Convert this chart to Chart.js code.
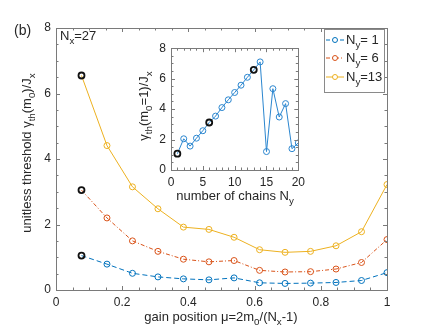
<!DOCTYPE html>
<html>
<head>
<meta charset="utf-8">
<script src="https://cdn.jsdelivr.net/npm/chart.js@4.4.1/dist/chart.umd.min.js"></script>
<style>
  html, body { margin: 0; padding: 0; background: #fff; }
  #wrap { position: relative; width: 428px; height: 330px; }
  #main { position: absolute; left: 0; top: 0; }
  #inset { position: absolute; left: 130px; top: 36px; }
</style>
</head>
<body>
<div id="wrap">
  <canvas id="main" width="428" height="330"></canvas>
  <canvas id="inset" width="180" height="180"></canvas>
</div>
<script>
// posiciones de ganancia mu = 2 m0 / (Nx - 1), Nx = 27
const gainPositions = [0.077, 0.154, 0.231, 0.308, 0.385, 0.462, 0.538, 0.615, 0.692, 0.769, 0.846, 0.923, 1.0];
const thresholdNy1  = [1.05, 0.79, 0.51, 0.40, 0.34, 0.31, 0.37, 0.22, 0.20, 0.21, 0.23, 0.29, 0.53];
const thresholdNy6  = [3.05, 2.20, 1.50, 1.18, 0.94, 0.86, 0.90, 0.60, 0.55, 0.56, 0.64, 0.84, 1.54];
const thresholdNy13 = [6.55, 4.41, 3.15, 2.48, 1.92, 1.85, 1.61, 1.23, 1.15, 1.18, 1.35, 1.78, 3.22];

// inset: umbral con m0 = 1 en funcion del numero de cadenas
const chainCounts = [1, 2, 3, 4, 5, 6, 7, 8, 9, 10, 11, 12, 13, 14, 15, 16, 17, 18, 19, 20];
const thresholdM1 = [1.07, 2.05, 1.57, 2.09, 2.58, 3.12, 3.54, 4.10, 4.61, 5.09, 5.57, 6.09, 6.58, 7.10, 1.21, 5.34, 3.48, 4.36, 1.40, 1.78];
const highlightedChains = [1, 6, 13];

const mainXTicks = [0, 0.2, 0.4, 0.6, 0.8, 1];
const mainXLabels = ['0', '0.2', '0.4', '0.6', '0.8', '1'];
const mainYTicks = [0, 2, 4, 6, 8];
const insetXTicks = [0, 5, 10, 15, 20];
const insetYTicks = [0, 2, 4, 6, 8];

const FONT = '"Liberation Sans", Arial, sans-serif';
const TXT = '#262626';
const AXIS = '#7a7a7a';
const BLUE = '#0072BD';
const ORANGE = '#D95319';
const YELLOW = '#EDB120';
const INSET_BLUE = '#2b86cf';

// texto con subindices: partes = [[texto, esSub], ...]
function richWidth(ctx, parts, size) {
  let w = 0;
  parts.forEach(([t, sub]) => {
    ctx.font = (sub ? size * 0.75 : size) + 'px ' + FONT;
    w += ctx.measureText(t).width;
  });
  return w;
}
function drawRich(ctx, parts, x, y, size, align) {
  ctx.save();
  ctx.fillStyle = TXT;
  ctx.textBaseline = 'middle';
  ctx.textAlign = 'left';
  let cx = x;
  const w = richWidth(ctx, parts, size);
  if (align === 'center') cx = x - w / 2;
  parts.forEach(([t, sub]) => {
    ctx.font = (sub ? size * 0.75 : size) + 'px ' + FONT;
    ctx.fillText(t, cx, sub ? y + size * 0.38 : y);
    cx += ctx.measureText(t).width;
  });
  ctx.restore();
}

// caja tipo MATLAB con marcas hacia dentro
function drawBox(chart, xMinor, yMinor) {
  const ctx = chart.ctx;
  const a = chart.chartArea;
  const xs = chart.scales.x, ys = chart.scales.y;
  ctx.save();
  ctx.strokeStyle = AXIS;
  ctx.lineWidth = 1;
  ctx.strokeRect(Math.round(a.left) + 0.5, Math.round(a.top) + 0.5, Math.round(a.right - a.left), Math.round(a.bottom - a.top));
  ctx.beginPath();
  for (let v = xs.min; v <= xs.max + 1e-9; v += xMinor) {
    const major = Math.abs(v / xs.options.ticks.stepSize - Math.round(v / xs.options.ticks.stepSize)) < 1e-6;
    const len = major ? 4 : 2.5;
    const px = Math.round(xs.getPixelForValue(v)) + 0.5;
    ctx.moveTo(px, a.bottom); ctx.lineTo(px, a.bottom - len);
    ctx.moveTo(px, a.top); ctx.lineTo(px, a.top + len);
  }
  for (let v = ys.min; v <= ys.max + 1e-9; v += yMinor) {
    const major = Math.abs(v / ys.options.ticks.stepSize - Math.round(v / ys.options.ticks.stepSize)) < 1e-6;
    const len = major ? 4 : 2.5;
    const py = Math.round(ys.getPixelForValue(v)) + 0.5;
    ctx.moveTo(a.left, py); ctx.lineTo(a.left + len, py);
    ctx.moveTo(a.right, py); ctx.lineTo(a.right - len, py);
  }
  ctx.stroke();
  ctx.restore();
}

function serie(label, values, color, dash) {
  return {
    label: label,
    data: gainPositions.map((x, i) => ({ x: x, y: values[i] })),
    borderColor: color,
    backgroundColor: '#fff',
    borderWidth: 1,
    borderDash: dash,
    pointRadius: 3,
    pointBorderWidth: ctx => ctx.dataIndex === 0 ? 1.8 : 1,
    pointBorderColor: ctx => ctx.dataIndex === 0 ? '#111' : color,
    pointBackgroundColor: 'rgba(255,255,255,0)',
    tension: 0
  };
}

const mainDecor = {
  id: 'mainDecor',
  afterDraw(chart) {
    const ctx = chart.ctx;
    drawBox(chart, 0.05, 0.5);
    // etiquetas
    ctx.save();
    ctx.fillStyle = TXT;
    ctx.font = '14px ' + FONT;
    ctx.textBaseline = 'middle';
    ctx.fillText('(b)', 14, 31);
    ctx.restore();
    drawRich(ctx, [['N', false], ['x', true], ['=27', false]], 60, 36, 13, 'left');
    drawRich(ctx, [['gain position \u03bc=2m', false], ['0', true], ['/(N', false], ['x', true], ['-1)', false]], 221, 317, 13, 'center');
    ctx.save();
    ctx.translate(27, 153);
    ctx.rotate(-Math.PI / 2);
    drawRich(ctx, [['unitless threshold \u03b3', false], ['th', true], ['(m', false], ['0', true], [')/J', false], ['x', true]], 0, 0, 13, 'center');
    ctx.restore();
    // leyenda
    const lx = 324, ly = 29, lw = 60, lh = 63;
    ctx.save();
    ctx.fillStyle = '#fff';
    ctx.fillRect(lx, ly, lw, lh);
    ctx.strokeStyle = '#8a8a8a';
    ctx.lineWidth = 1;
    ctx.strokeRect(lx + 0.5, ly + 0.5, lw, lh);
    const rows = [
      { c: BLUE, d: [4, 3], n: '= 1', y: 40 },
      { c: ORANGE, d: [4, 2, 1, 2], n: '= 6', y: 58 },
      { c: YELLOW, d: [], n: '=13', y: 77 }
    ];
    rows.forEach(r => {
      ctx.strokeStyle = r.c;
      ctx.setLineDash(r.d);
      ctx.beginPath();
      ctx.moveTo(326, r.y); ctx.lineTo(344, r.y);
      ctx.stroke();
      ctx.setLineDash([]);
      ctx.fillStyle = '#fff';
      ctx.beginPath();
      ctx.arc(335, r.y, 2.5, 0, Math.PI * 2);
      ctx.fill();
      ctx.stroke();
      drawRich(ctx, [['N', false], ['y', true], [r.n, false]], 346, r.y, 13, 'left');
    });
    ctx.restore();
  }
};

new Chart(document.getElementById('main'), {
  type: 'line',
  data: {
    datasets: [
      serie('Ny= 1', thresholdNy1, BLUE, [5, 3]),
      serie('Ny= 6', thresholdNy6, ORANGE, [4, 2, 1, 2]),
      serie('Ny=13', thresholdNy13, YELLOW, [])
    ]
  },
  options: {
    responsive: false,
    animation: false,
    layout: { padding: { top: 28, right: 41, left: 0, bottom: 0 } },
    plugins: { legend: { display: false }, tooltip: { enabled: false } },
    scales: {
      x: {
        type: 'linear', min: 0, max: 1,
        grid: { display: false, drawTicks: false },
        border: { display: false },
        afterFit: s => { s.height = 40; },
        afterBuildTicks: s => { s.ticks = mainXTicks.map(v => ({ value: v })); },
        ticks: {
          stepSize: 0.2, padding: 5, color: TXT, font: { family: FONT, size: 12 },
          callback: (v, i) => mainXLabels[i]
        }
      },
      y: {
        min: 0, max: 8,
        grid: { display: false, drawTicks: false },
        border: { display: false },
        afterFit: s => { s.width = 56; },
        afterBuildTicks: s => { s.ticks = mainYTicks.map(v => ({ value: v })); },
        ticks: { stepSize: 2, padding: 5, color: TXT, font: { family: FONT, size: 12 } }
      }
    }
  },
  plugins: [mainDecor]
});

const insetDecor = {
  id: 'insetDecor',
  afterDraw(chart) {
    const ctx = chart.ctx;
    drawBox(chart, 1, 0.5);
    drawRich(ctx, [['number of chains N', false], ['y', true]], 105, 160, 13, 'center');
    ctx.save();
    ctx.translate(14, 70);
    ctx.rotate(-Math.PI / 2);
    drawRich(ctx, [['\u03b3', false], ['th', true], ['(m', false], ['0', true], ['=1)/J', false], ['x', true]], 0, 0, 13, 'center');
    ctx.restore();
  }
};

new Chart(document.getElementById('inset'), {
  type: 'line',
  data: {
    datasets: [{
      data: chainCounts.map((n, i) => ({ x: n, y: thresholdM1[i] })),
      borderColor: INSET_BLUE,
      borderWidth: 1,
      pointRadius: 3,
      pointBorderWidth: ctx => highlightedChains.includes(chainCounts[ctx.dataIndex]) ? 1.8 : 1,
      pointBorderColor: ctx => highlightedChains.includes(chainCounts[ctx.dataIndex]) ? '#111' : INSET_BLUE,
      pointBackgroundColor: 'rgba(255,255,255,0)',
      tension: 0
    }]
  },
  options: {
    responsive: false,
    animation: false,
    layout: { padding: { top: 7, right: 11, left: 0, bottom: 0 } },
    plugins: { legend: { display: false }, tooltip: { enabled: false } },
    scales: {
      x: {
        type: 'linear', min: 0, max: 20,
        grid: { display: false, drawTicks: false },
        border: { display: false },
        afterFit: s => { s.height = 46; },
        afterBuildTicks: s => { s.ticks = insetXTicks.map(v => ({ value: v })); },
        ticks: { stepSize: 5, padding: 5, color: TXT, font: { family: FONT, size: 12 } }
      },
      y: {
        min: 0, max: 8,
        grid: { display: false, drawTicks: false },
        border: { display: false },
        afterFit: s => { s.width = 41; },
        afterBuildTicks: s => { s.ticks = insetYTicks.map(v => ({ value: v })); },
        ticks: { stepSize: 2, padding: 5, color: TXT, font: { family: FONT, size: 12 } }
      }
    }
  },
  plugins: [insetDecor]
});
</script>
</body>
</html>
